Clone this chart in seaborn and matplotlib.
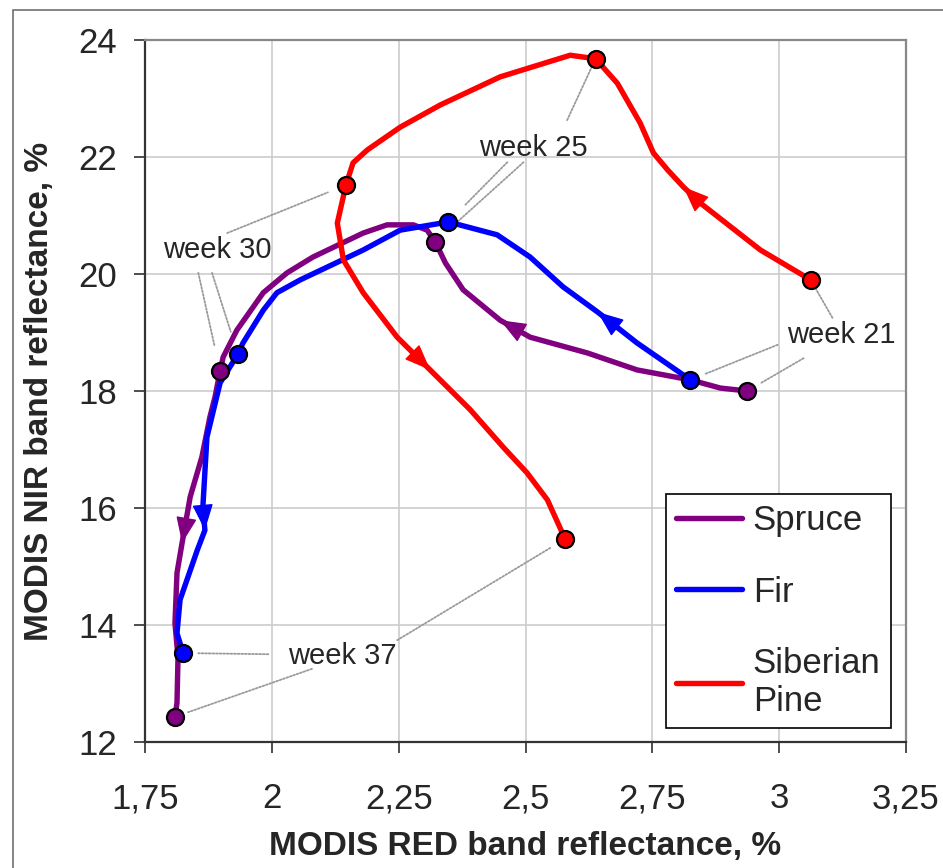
import numpy as np
import pandas as pd
import matplotlib
matplotlib.use("Agg")
import matplotlib.pyplot as plt
import seaborn as sns
from matplotlib.patches import Rectangle

# traced paths, week 21 -> week 37 (MODIS RED %, MODIS NIR %)
spruce_x = [2.937, 2.884, 2.825, 2.720, 2.622, 2.509, 2.450, 2.377, 2.342, 2.322, 2.306, 2.279, 2.227, 2.180, 2.081,
            2.030, 1.983, 1.931, 1.904, 1.898, 1.888, 1.878, 1.862, 1.839, 1.823, 1.813, 1.809, 1.815, 1.813, 1.809]
spruce_y = [18.00, 18.05, 18.19, 18.36, 18.65, 18.92, 19.21, 19.73, 20.19, 20.55, 20.75, 20.84, 20.84, 20.70, 20.29,
            20.02, 19.68, 19.04, 18.58, 18.34, 17.90, 17.56, 16.87, 16.19, 15.40, 14.89, 14.03, 13.45, 12.67, 12.43]
spruce_weeks = [0, 9, 19, 29]
spruce_arrows = [6, 24]

fir_x = [2.825, 2.720, 2.642, 2.574, 2.509, 2.444, 2.348, 2.253, 2.180, 2.056, 2.010, 1.983, 1.943, 1.933, 1.898,
         1.872, 1.864, 1.868, 1.853, 1.819, 1.813, 1.825]
fir_y = [18.19, 18.82, 19.35, 19.78, 20.29, 20.67, 20.89, 20.75, 20.41, 19.90, 19.68, 19.38, 18.82, 18.63, 18.14,
         17.21, 16.02, 15.62, 15.28, 14.43, 13.86, 13.52]
fir_weeks = [0, 6, 13, 21]
fir_arrows = [2, 17]

pine_x = [3.062, 2.963, 2.845, 2.811, 2.780, 2.752, 2.726, 2.681, 2.638, 2.588, 2.450, 2.332, 2.253, 2.188, 2.160,
          2.146, 2.129, 2.141, 2.180, 2.247, 2.312, 2.391, 2.456, 2.503, 2.543, 2.578]
pine_y = [19.90, 20.41, 21.21, 21.49, 21.78, 22.07, 22.58, 23.26, 23.68, 23.74, 23.37, 22.89, 22.51, 22.12, 21.90,
          21.52, 20.87, 20.24, 19.68, 18.92, 18.36, 17.68, 17.04, 16.60, 16.14, 15.47]
pine_weeks = [0, 8, 15, 25]
pine_arrows = [3, 20]

week_names = ["week 21", "week 25", "week 30", "week 37"]
week_text_x = [3.123, 2.515, 1.892, 2.139]
week_text_y = [18.96, 22.15, 20.41, 13.47]
# leader line start points near each label: spruce, fir, pine
leader_x = [[3.048, 2.997, 3.105], [2.496, 2.464, 2.582], [1.855, 1.882, 1.912], [2.079, 1.993, 2.247]]
leader_y = [[18.56, 18.79, 19.25], [21.91, 21.91, 22.63], [20.02, 20.02, 20.70], [13.25, 13.50, 13.74]]
leader_gap = [[11, 10.6, 7.6], [12.7, 17, 6.8], [18, 17, 14], [10, 11, 12]]

xticks = [1.75, 2.0, 2.25, 2.5, 2.75, 3.0, 3.25]
xtick_labels = ["1,75", "2", "2,25", "2,5", "2,75", "3", "3,25"]
yticks = [12, 14, 16, 18, 20, 22, 24]

series = [
    ("Spruce", spruce_x, spruce_y, spruce_weeks, spruce_arrows, "#800080"),
    ("Fir", fir_x, fir_y, fir_weeks, fir_arrows, "#0000FF"),
    ("Siberian\nPine", pine_x, pine_y, pine_weeks, pine_arrows, "#FF0000"),
]

sns.set_style("ticks")
plt.rcParams["font.family"] = ["Liberation Sans", "DejaVu Sans"]

fig, ax = plt.subplots(figsize=(9.43, 8.68), dpi=100)
fig.subplots_adjust(left=0.1538, right=0.9608, bottom=0.1452, top=0.9539)
fig.patches.append(Rectangle((13 / 943, -0.05), 1.2, 1 - 10 / 868 + 0.05, transform=fig.transFigure,
                             fill=False, edgecolor="#707070", lw=1.2))

for name, xs, ys, weeks, arrows, color in series:
    df = pd.DataFrame({"x": xs, "y": ys})
    sns.lineplot(data=df, x="x", y="y", sort=False, estimator=None, color=color, linewidth=3.9,
                 label=name, ax=ax, solid_joinstyle="round", solid_capstyle="round", zorder=3)
    for i in arrows:
        ax.annotate("", xy=(xs[i], ys[i]), xytext=(xs[i - 1], ys[i - 1]),
                    arrowprops=dict(arrowstyle="-|>,head_length=0.55,head_width=0.22", color=color,
                                    lw=1, mutation_scale=30, shrinkA=0, shrinkB=0), zorder=4)

for name, xs, ys, weeks, arrows, color in series:
    mk = pd.DataFrame({"x": [xs[i] for i in weeks], "y": [ys[i] for i in weeks]})
    sns.scatterplot(data=mk, x="x", y="y", color=color, s=150, edgecolor="black", linewidth=1.6,
                    legend=False, ax=ax, zorder=5)

for k, label in enumerate(week_names):
    ax.text(week_text_x[k], week_text_y[k], label, ha="center", va="center", fontsize=21, zorder=6)
    for j, (name, xs, ys, weeks, arrows, color) in enumerate(series):
        ax.annotate("", xy=(xs[weeks[k]], ys[weeks[k]]), xytext=(leader_x[k][j], leader_y[k][j]),
                    arrowprops=dict(arrowstyle="-", color="#9a9a9a", lw=1.3, linestyle=(0, (1, 1)),
                                    shrinkA=0, shrinkB=leader_gap[k][j]), zorder=2)

ax.set_xlim(1.75, 3.25)
ax.set_ylim(12, 24)
ax.set_xticks(xticks)
ax.set_xticklabels(xtick_labels)
ax.set_yticks(yticks)
ax.grid(True, color="#cccccc", lw=1.2)
ax.set_axisbelow(True)
ax.tick_params(axis="both", direction="out", length=8, width=1.3, color="#404040", labelsize=25)
ax.tick_params(axis="x", pad=21)
ax.tick_params(axis="y", pad=12)
for side in ["left", "bottom"]:
    ax.spines[side].set_color("#333333")
    ax.spines[side].set_linewidth(1.6)
for side in ["top", "right"]:
    ax.spines[side].set_color("#888888")
    ax.spines[side].set_linewidth(1.6)

ax.set_xlabel("MODIS RED band reflectance, %", fontsize=24, fontweight="bold")
ax.set_ylabel("MODIS NIR band reflectance, %", fontsize=24, fontweight="bold")
ax.xaxis.set_label_coords(0.5, -0.127)
ax.yaxis.set_label_coords(-0.118, 0.5)

leg = ax.legend(loc="upper left", bbox_to_anchor=(0.6846, 0.3533), borderaxespad=0, frameon=True,
                fancybox=False, edgecolor="black", fontsize=25, handlelength=1.9, handletextpad=0.3,
                labelspacing=1.1, borderpad=0.3)
leg.get_frame().set_linewidth(1.2)
leg.get_frame().set_alpha(1)

fig.savefig("out.png", dpi=100)
